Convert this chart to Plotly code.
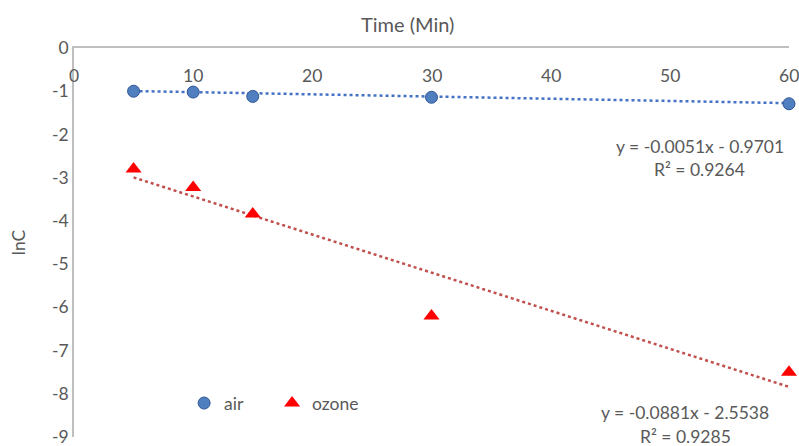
import plotly.graph_objects as go

time_min = [5, 10, 15, 30, 60]
air_lnc = [-1.00, -1.02, -1.12, -1.14, -1.29]
ozone_lnc = [-2.80, -3.23, -3.84, -6.20, -7.50]

air_slope, air_intercept, air_r2 = -0.0051, -0.9701, 0.9264
ozone_slope, ozone_intercept, ozone_r2 = -0.0881, -2.5538, 0.9285

x_ticks = [0, 10, 20, 30, 40, 50, 60]
y_ticks = [0, -1, -2, -3, -4, -5, -6, -7, -8, -9]
y_tick_text = ["0", "-1", "-2", "-3", "-4", "-5", "-6", "-7", "-8", "-9"]

FONT = "Lato, Open Sans, sans-serif"
GREY = "#595959"
FS = 17.5

trend_x = [min(time_min), max(time_min)]
air_trend = [air_slope * t + air_intercept for t in trend_x]
ozone_trend = [ozone_slope * t + ozone_intercept for t in trend_x]

fig = go.Figure()
fig.add_trace(go.Scatter(x=trend_x, y=air_trend, mode="lines", showlegend=False, cliponaxis=False,
                         line=dict(color="#4472C4", width=2.5, dash="dot"), hoverinfo="skip"))
fig.add_trace(go.Scatter(x=trend_x, y=ozone_trend, mode="lines", showlegend=False, cliponaxis=False,
                         line=dict(color="#C0504D", width=2.5, dash="dot"), hoverinfo="skip"))
fig.add_trace(go.Scatter(x=time_min, y=air_lnc, mode="markers", name="air", cliponaxis=False,
                         legend="legend",
                         marker=dict(symbol="circle", size=12, color="#4F7FBF",
                                     line=dict(color="#2F5597", width=1))))
fig.add_trace(go.Scatter(x=time_min, y=ozone_lnc, mode="markers", name="ozone", cliponaxis=False,
                         legend="legend2",
                         marker=dict(symbol="triangle-up", size=14, color="#FF0000",
                                     line=dict(color="#FF0000", width=0))))

def fmt(s, b):
    sign = "-" if b < 0 else "+"
    return f"y = {s:.4f}x {sign} {abs(b):.4f}"

anns = [
    (52.5, -2.27, fmt(air_slope, air_intercept)),
    (52.5, -2.82, f"R² = {air_r2:.4f}"),
    (51.3, -8.43, fmt(ozone_slope, ozone_intercept)),
    (51.3, -8.98, f"R² = {ozone_r2:.4f}"),
]
for ax_, ay_, txt in anns:
    fig.add_annotation(x=ax_, y=ay_, xref="x", yref="y", text=txt, showarrow=False,
                       font=dict(family=FONT, size=FS, color=GREY), xanchor="center", yanchor="middle")

# x tick labels drawn just below the top axis line
for t in x_ticks:
    fig.add_annotation(x=t, y=1, xref="x", yref="paper", text=str(t), showarrow=False,
                       yshift=-15, xanchor="center", yanchor="top",
                       font=dict(family=FONT, size=FS, color=GREY))

# axis title (Excel places it slightly left of centre)
fig.add_annotation(x=0.467, y=1, xref="paper", yref="paper", text="Time (Min)", showarrow=False,
                   yshift=24, xanchor="center", yanchor="middle",
                   font=dict(family=FONT, size=20, color=GREY))

legend_common = dict(orientation="h", y=0.087, xanchor="left", yanchor="middle",
                     bgcolor="rgba(0,0,0,0)", font=dict(family=FONT, size=FS, color=GREY),
                     itemwidth=30, tracegroupgap=0)

fig.update_layout(
    width=799, height=446,
    margin=dict(l=74, r=10, t=48, b=9, autoexpand=False),
    paper_bgcolor="white", plot_bgcolor="white",
    font=dict(family=FONT, size=FS, color=GREY),
    legend=dict(x=0.154, **legend_common),
    legend2=dict(x=0.277, **legend_common),
    xaxis=dict(range=[0, 60], tickvals=x_ticks, side="top", showticklabels=False,
               showline=True, linecolor="#BFBFBF", linewidth=1.5, showgrid=False,
               zeroline=False, ticks="", automargin=False),
    yaxis=dict(range=[-9, 0], tickvals=y_ticks, ticktext=y_tick_text, showline=True,
               linecolor="#BFBFBF", linewidth=1.5, showgrid=False, zeroline=False, ticks="",
               automargin=False, tickfont=dict(size=FS, color=GREY), ticklabeloverflow="allow",
               title=dict(text="lnC", font=dict(size=FS, color=GREY), standoff=22)),
)

fig.write_html("out.html", config={"displayModeBar": False},
               post_script="document.body.style.margin='0';document.body.style.overflow='hidden';")
